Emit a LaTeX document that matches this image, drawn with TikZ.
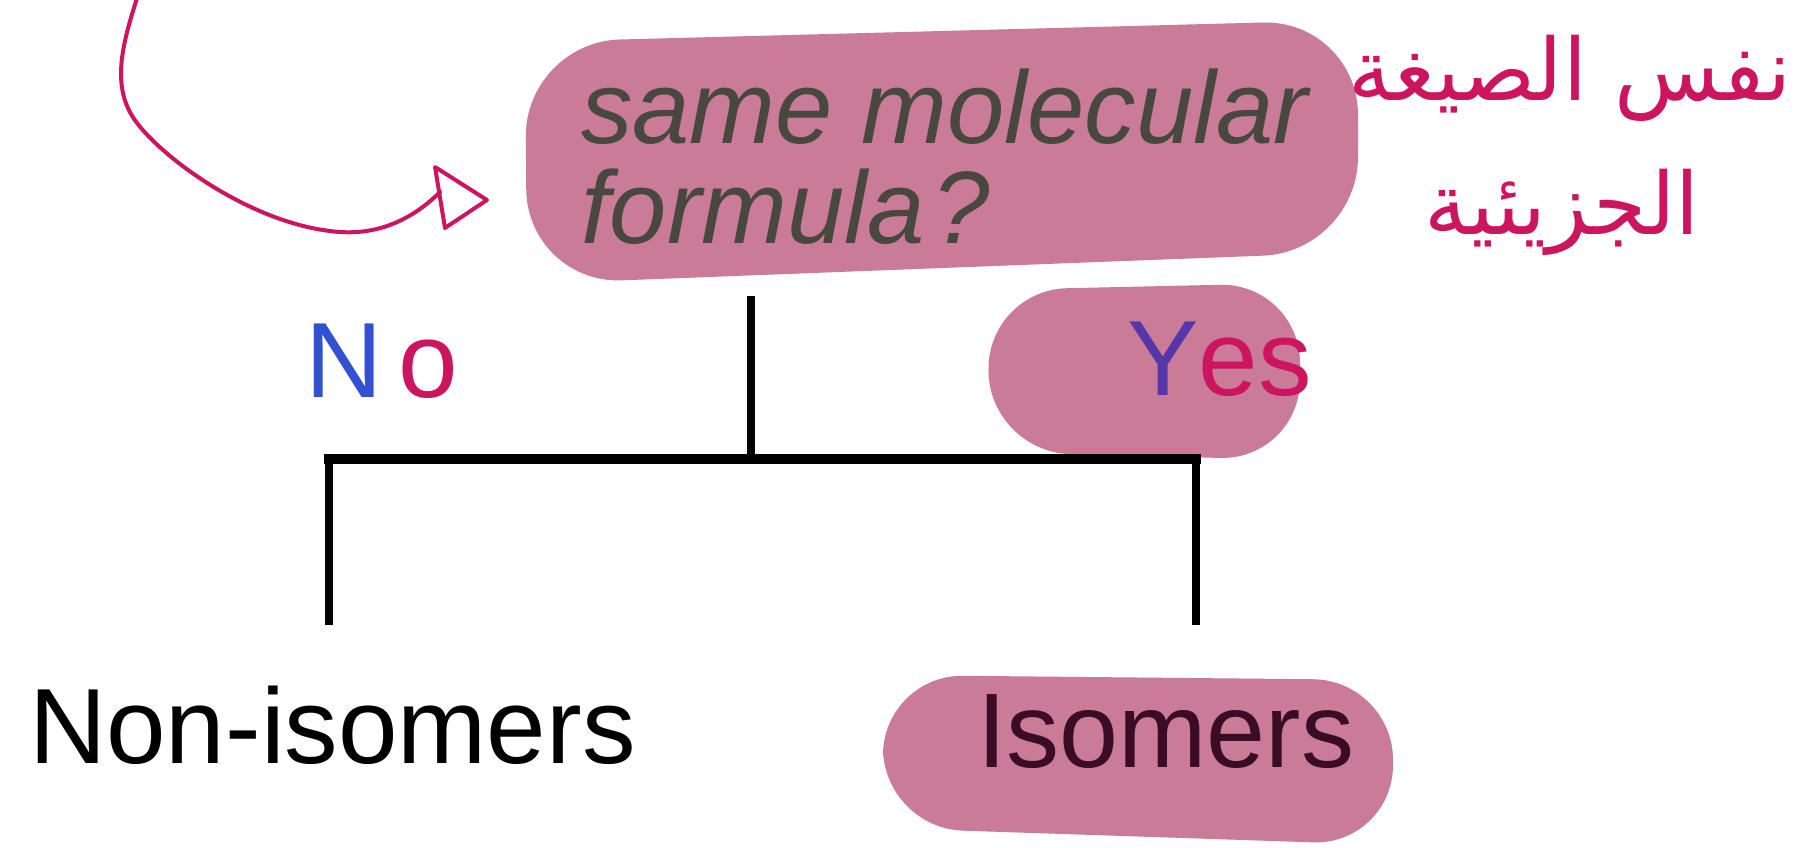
\documentclass[tikz,border=0pt]{standalone}
\usepackage{fontspec}
\setmainfont{Liberation Sans}
\newfontfamily\arabicfont[Script=Arabic]{DejaVu Sans}
\TeXXeTstate=1
\definecolor{hl}{RGB}{201,123,152}
\definecolor{qtext}{RGB}{72,72,62}
\definecolor{isotext}{RGB}{58,12,38}
\definecolor{ink}{RGB}{205,20,95}
\definecolor{nblue}{RGB}{50,80,210}
\definecolor{ypurple}{RGB}{85,55,170}
\tikzset{
 blob/.style={fill=hl, draw=none},
 bar/.style={line width=7.5pt, black},
 hbar/.style={line width=10pt, black, line cap=rect},
 lbl/.style={inner sep=0pt, anchor=base west},
 pen/.style={draw=ink, line width=4pt, line cap=round, line join=round},
 big/.style={font=\fontsize{107}{107}\selectfont},
}
\begin{document}
\begin{tikzpicture}[x=1pt,y=-1pt]
\fill[white] (0,0) rectangle (1798,847);
\useasboundingbox (0,0) rectangle (1798,847);
% highlight blobs
\fill[blob, rounded corners=95pt] (525,42) -- (1358,20) -- (1358,252) -- (527,284) -- cycle;
\fill[blob, rounded corners=80pt] (987,290) -- (1300,283) -- (1300,460) -- (990,452) -- cycle;
\fill[blob, rounded corners=80pt] (883,675) -- (1393,680) -- (1393,845) -- (883,828) -- cycle;
% texts
\node[lbl, font=\fontsize{103}{103}\selectfont\itshape, text=qtext] (q1) at (581,143) {same molecular};
\node[lbl, font=\fontsize{103}{103}\selectfont\itshape, text=qtext] (q2) at (581,243) {formula\kern8pt?};
\node[lbl, big] (no) at (305,397) {\textcolor{nblue}{N}\kern16pt\textcolor{ink}{o}};
\node[lbl, big] (yes) at (1127,395) {\textcolor{ypurple}{Y}\textcolor{ink}{es}};
\node[lbl, big] (non) at (29,763) {Non-isomers};
\node[lbl, font=\fontsize{106}{106}\selectfont, text=isotext] (iso) at (977,767) {Isomers};
\node[inner sep=0pt, font=\arabicfont\fontsize{86}{86}\selectfont, text=ink] (ar1) at (1570,78) {\beginR نفس الصيغة\endR};
\node[inner sep=0pt, font=\arabicfont\fontsize{86}{86}\selectfont, text=ink] (ar2) at (1562,212) {\beginR الجزيئية\endR};
% tree connectors
\coordinate (qb) at (751,296);
\coordinate (j) at (751,459);
\coordinate (jl) at (329,459);
\coordinate (jr) at (1196,459);
\coordinate (nl) at (329,625);
\coordinate (ir) at (1196,625);
\draw[bar] (qb) -- (j);
\draw[bar] (nl) -- (jl);
\draw[bar] (ir) -- (jr);
\draw[hbar] (jl) -- (jr);
% hand-drawn arrow
\coordinate (cs) at (138,-5);
\coordinate (ce) at (440,192);
\draw[pen] (cs) .. controls (122,45) and (110,88) .. (137,123)
  .. controls (165,160) and (255,226) .. (340,232)
  .. controls (385,235) and (418,214) .. (ce);
\draw[pen] (435,167) -- (487,200) -- (445,228) -- cycle;
\end{tikzpicture}
\end{document}
